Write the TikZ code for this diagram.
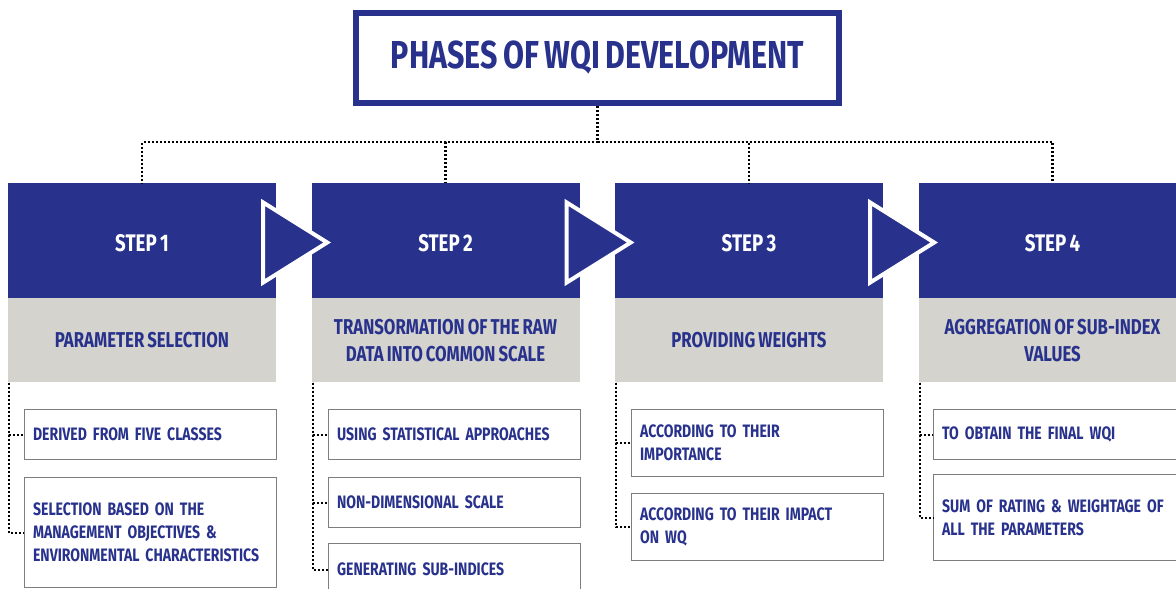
\documentclass[tikz,border=0pt]{standalone}
\usepackage{fontspec}
\setmainfont[FakeStretch=0.78,WordSpace=0.75]{Fira Sans}
\newfontfamily\detailfont[FakeStretch=0.78,WordSpace=0.55]{Fira Sans}
\usetikzlibrary{positioning,calc}

\definecolor{wqinavy}{RGB}{40,50,140}
\definecolor{wqigrey}{RGB}{212,211,206}
\definecolor{wqiedge}{RGB}{125,125,125}

\tikzset{
  titlebox/.style={draw=wqinavy, line width=6pt, text=wqinavy, minimum width=483pt, minimum height=90pt,
    font=\bfseries\fontsize{39}{42}\selectfont},
  headbox/.style={fill=wqinavy, text=white, minimum width=268pt, minimum height=115pt, inner sep=0pt,
    text height=21pt, text depth=0pt, font=\bfseries\fontsize{24}{26}\selectfont},
  bandbox/.style={fill=wqigrey, text=wqinavy, minimum width=268pt, minimum height=84pt, inner sep=0pt,
    align=center, font=\bfseries\fontsize{21.5}{27}\selectfont},
  subbox/.style={draw=wqiedge, line width=1.2pt, fill=white, text=wqinavy, anchor=north west,
    minimum width=252pt, text width=235pt, inner xsep=8.5pt, align=left,
    font=\detailfont\bfseries\fontsize{18}{23}\selectfont},
  tree/.style={line width=2.2pt, dash pattern=on 2pt off 2pt},
  steparrow/.style={fill=wqinavy, draw=white, line width=4pt, line join=miter},
}

\begin{document}
\begin{tikzpicture}[x=1pt,y=-1pt]
  \useasboundingbox (0,0) rectangle (1176,589);

  \node[titlebox] at (597.5,58) (title) {PHASES OF WQI DEVELOPMENT};

  % step headers and their grey phase bands
  \node[headbox] at (142,240.5) (s1) {STEP 1};
  \node[headbox] at (445.5,240.5) (s2) {STEP 2};
  \node[headbox] at (749,240.5) (s3) {STEP 3};
  \node[headbox] at (1052.5,240.5) (s4) {STEP 4};

  \node[bandbox, below=0pt of s1] (b1) {PARAMETER SELECTION};
  \node[bandbox, below=0pt of s2] (b2) {TRANSORMATION OF THE RAW\\DATA INTO COMMON SCALE};
  \node[bandbox, below=0pt of s3] (b3) {PROVIDING WEIGHTS};
  \node[bandbox, below=0pt of s4] (b4) {AGGREGATION OF SUB-INDEX\\VALUES};

  % arrows between the steps
  \draw[steparrow] ($(s1.east)+(-13,-38)$) -- ($(s1.east)+(51,2)$) -- ($(s1.east)+(-13,42)$) -- cycle;
  \draw[steparrow] ($(s2.east)+(-13,-38)$) -- ($(s2.east)+(51,2)$) -- ($(s2.east)+(-13,42)$) -- cycle;
  \draw[steparrow] ($(s3.east)+(-13,-38)$) -- ($(s3.east)+(51,2)$) -- ($(s3.east)+(-13,42)$) -- cycle;

  \coordinate (hub) at (597.5,142);
  \draw[tree] (title.south) -- (hub);
  \draw[tree] (hub) -| (s1.north);
  \draw[tree] (hub) -| (s2.north);
  \draw[tree] (hub) -| (s3.north);
  \draw[tree] (hub) -| (s4.north);

  % details under each step
  \node[subbox, minimum height=50pt] at (24,409) (d11) {DERIVED FROM FIVE CLASSES};
  \node[subbox, minimum height=110pt] at (24,477) (d12) {SELECTION BASED ON THE\\MANAGEMENT OBJECTIVES \&\\ENVIRONMENTAL CHARACTERISTICS};

  \node[subbox, minimum height=50pt] at (328,409) (d21) {USING STATISTICAL APPROACHES};
  \node[subbox, minimum height=50pt] at (328,477) (d22) {NON-DIMENSIONAL SCALE};
  \node[subbox, minimum height=52pt] at (328,543) (d23) {GENERATING SUB-INDICES};

  \node[subbox, minimum height=67pt] at (631,409) (d31) {ACCORDING TO THEIR\\IMPORTANCE};
  \node[subbox, minimum height=67pt] at (631,493) (d32) {ACCORDING TO THEIR IMPACT\\ON WQ};

  \node[subbox, minimum height=50pt] at (933,409) (d41) {TO OBTAIN THE FINAL WQI};
  \node[subbox, minimum height=86pt] at (933,474) (d42) {SUM OF RATING \& WEIGHTAGE OF\\ALL THE PARAMETERS};

  \draw[tree] ([xshift=1.5pt]b1.south west) |- (d12.west);
  \draw[tree] ([xshift=1.5pt]b1.south west) |- (d11.west);
  \draw[tree] ([xshift=1.5pt]b2.south west) |- (d23.west);
  \draw[tree] ([xshift=1.5pt]b2.south west) |- (d22.west);
  \draw[tree] ([xshift=1.5pt]b2.south west) |- (d21.west);
  \draw[tree] ([xshift=1.5pt]b3.south west) |- (d32.west);
  \draw[tree] ([xshift=1.5pt]b3.south west) |- (d31.west);
  \draw[tree] ([xshift=1.5pt]b4.south west) |- (d42.west);
  \draw[tree] ([xshift=1.5pt]b4.south west) |- (d41.west);

\end{tikzpicture}
\end{document}
